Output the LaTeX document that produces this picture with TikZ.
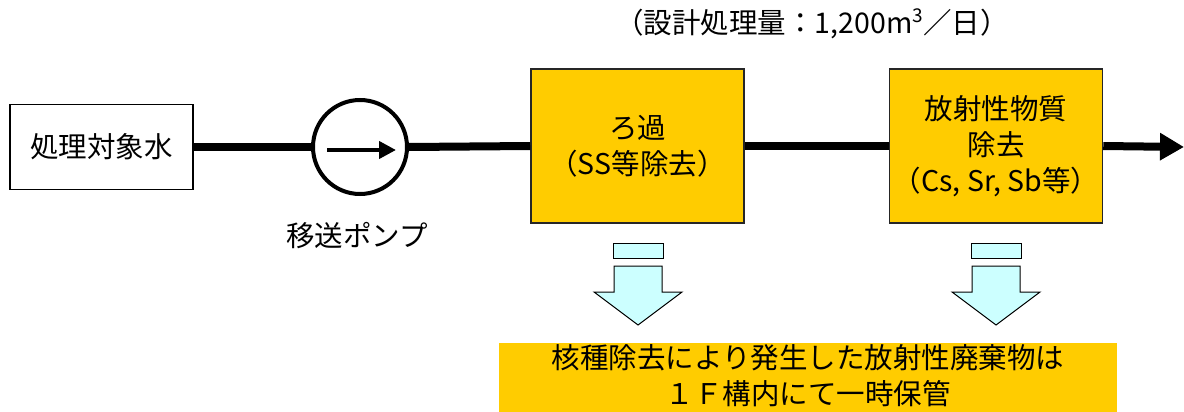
\documentclass[tikz,border=0pt]{standalone}
\usepackage{fontspec}
\setmainfont{Noto Sans CJK JP}
\usetikzlibrary{arrows.meta}
\definecolor{gold}{HTML}{FFCC00}
\definecolor{ltcyan}{HTML}{CCFFFF}
\tikzset{
  txt/.style={font=\fontsize{28.5}{36}\selectfont, align=center, inner sep=0pt},
  plainbox/.style={txt, draw=black, line width=1.3pt, fill=white, minimum width=183pt, minimum height=85pt},
  procbox/.style={txt, draw=black!85, line width=1.5pt, fill=gold, minimum width=213pt, minimum height=154pt},
  pipe/.style={line width=8pt},
  downarrow/.style={draw=black, line width=1pt, fill=ltcyan, line join=miter},
}
\begin{document}
\begin{tikzpicture}[x=1pt,y=-1pt]
\useasboundingbox (0,0) rectangle (1184,412);
% title
\node[txt] (title) at (812,24) {（設計処理量：1,200m\raisebox{0.38em}{\fontsize{19}{19}\selectfont 3}／日）};
% nodes
\node[plainbox] (src) at (101.5,147) {処理対象水};
\node[circle, draw=black, line width=4pt, minimum size=94pt, inner sep=0pt] (pump) at (360,147) {};
\node[txt] (pumplbl) at (357,236) {移送ポンプ};
\node[procbox] (filt) at (637.5,146) {ろ過\\（SS等除去）};
\node[procbox] (rad) at (996,146) {放射性物質\\除去\\（Cs, Sr, Sb等）};
\coordinate (out) at (1184,147);
% pump inner arrow
\coordinate (pa) at (327,150);
\coordinate (pb) at (396,150);
\draw[line width=4pt, -{Triangle[length=17pt,width=17pt]}] (pa) -- (pb);
% pipes
\draw[pipe] (src.east) -- (pump.west);
\draw[pipe] (pump.east) -- (filt.west);
\draw[pipe] (filt.east) -- (rad.west);
\draw[pipe, -{Triangle[length=24pt,width=26pt]}] (rad.east) -- (out);
% down arrows
\foreach \cx in {638,996} {
  \draw[downarrow] (\cx-25,243) rectangle (\cx+25,258);
  \draw[downarrow] (\cx-24,266) -- (\cx+24,266) -- (\cx+24,292) -- (\cx+44,292) -- (\cx,325) -- (\cx-44,292) -- (\cx-24,292) -- cycle;
}
% bottom note
\fill[gold] (499,343) rectangle (1117,412);
\node[txt] (note) at (808,376) {核種除去により発生した放射性廃棄物は\\１Ｆ構内にて一時保管};
\end{tikzpicture}
\end{document}
